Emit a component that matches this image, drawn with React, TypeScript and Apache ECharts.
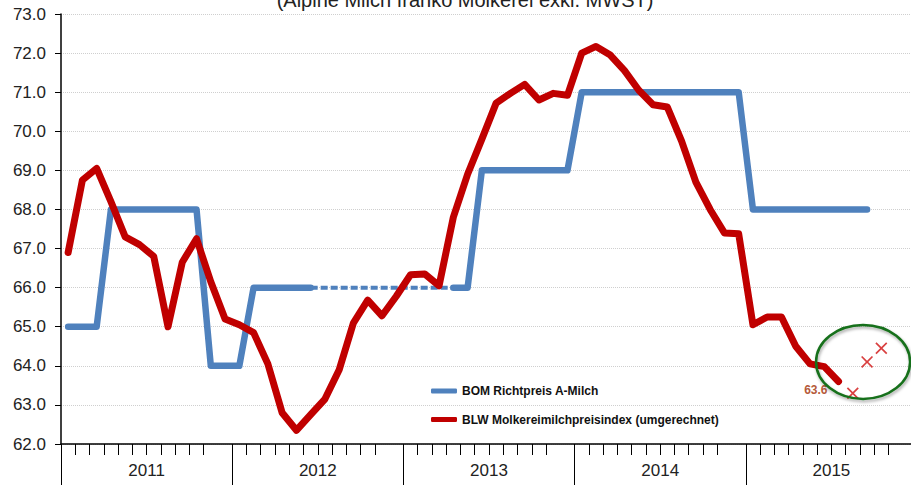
import React, { useEffect, useRef } from "react";
import * as echarts from "echarts";

// ---- data ----
const years = ["2011", "2012", "2013", "2014", "2015"];
const months = ["01", "02", "03", "04", "05", "06", "07", "08", "09", "10", "11", "12"];
const categories = years.flatMap((y) => months.map((m) => `${y}-${m}`));

// BOM Richtpreis A-Milch (Jan 2011 .. Sep 2015)
const bomValues = [
  65, 65, 65, 68, 68, 68, 68, 68, 68, 68, 64, 64,
  64, 66, 66, 66, 66, 66, 66, 66, 66, 66, 66, 66,
  66, 66, 66, 66, 66, 69, 69, 69, 69, 69, 69, 69,
  71, 71, 71, 71, 71, 71, 71, 71, 71, 71, 71, 71,
  68, 68, 68, 68, 68, 68, 68, 68, 68,
];
// months where the BOM price was not set (drawn dashed)
const bomGapFrom = 17;
const bomGapTo = 27;

// BLW Molkereimilchpreisindex (umgerechnet) (Jan 2011 .. Jul 2015)
const blwValues = [
  66.9, 68.75, 69.05, 68.2, 67.3, 67.1, 66.8, 65.0, 66.65, 67.25, 66.15, 65.2,
  65.05, 64.85, 64.05, 62.8, 62.35, 62.75, 63.15, 63.9, 65.1, 65.68, 65.28, 65.78,
  66.33, 66.35, 66.05, 67.8, 68.9, 69.8, 70.72, 70.97, 71.2, 70.8, 70.97, 70.92,
  72.0, 72.17, 71.95, 71.55, 71.05, 70.68, 70.62, 69.75, 68.7, 68.0, 67.4, 67.38,
  65.05, 65.25, 65.25, 64.5, 64.05, 63.98, 63.6,
];

// forecast points (Aug .. Oct 2015)
const forecastMonths = ["2015-08", "2015-09", "2015-10"];
const forecastValues = [63.3, 64.1, 64.45];

const yTicks = { min: 62, max: 73, step: 1 };

const BOM_NAME = "BOM Richtpreis A-Milch";
const BLW_NAME = "BLW Molkereimilchpreisindex (umgerechnet)";
const FONT = '"Liberation Sans", Arial, sans-serif';

const crossPath =
  "path://M0,1 L1,0 L5,4 L9,0 L10,1 L6,5 L10,9 L9,10 L5,6 L1,10 L0,9 L4,5 Z";

export default function App() {
  const ref = useRef<HTMLDivElement>(null);

  useEffect(() => {
    if (!ref.current) return;
    const chart = echarts.init(ref.current, undefined, { renderer: "svg" });

    const bomSolid = bomValues.map((v, i) => (i > bomGapFrom && i < bomGapTo ? null : v));
    const bomDashed = bomValues.map((v, i) => (i >= bomGapFrom && i <= bomGapTo ? v : null));
    const blwData = blwValues.map((v, i) =>
      i === blwValues.length - 1
        ? {
            value: v,
            symbol: "circle",
            symbolSize: 2,
            label: {
              show: true,
              position: "left",
              distance: 10,
              offset: [0, 9],
              formatter: (p: any) => Number(p.value).toFixed(1),
              color: "#b55a3a",
              fontWeight: "bold",
              fontSize: 12,
              fontFamily: FONT,
            },
          }
        : v
    );

    chart.setOption({
      animation: false,
      backgroundColor: "#ffffff",
      textStyle: { fontFamily: FONT },
      grid: { left: 61, top: 14, width: 856, height: 430, containLabel: false },
      legend: {
        data: [BOM_NAME, BLW_NAME],
        orient: "vertical",
        left: 431,
        top: 384,
        padding: 0,
        itemGap: 14.5,
        itemWidth: 26,
        itemHeight: 5,
        icon: "roundRect",
        textStyle: {
          fontFamily: FONT,
          fontSize: 12,
          fontWeight: "bold",
          color: "#111",
          lineHeight: 14,
        },
      },
      xAxis: [
        {
          type: "category",
          data: categories,
          boundaryGap: true,
          position: "bottom",
          axisLine: { lineStyle: { color: "#000", width: 1.5 } },
          axisTick: {
            show: true,
            length: 11,
            interval: (idx: number) => idx % 12 !== 11,
            lineStyle: { color: "#000", width: 1 },
          },
          axisLabel: { show: false },
          splitLine: { show: false },
        },
        {
          type: "category",
          data: years,
          boundaryGap: true,
          position: "bottom",
          axisLine: { show: false },
          axisTick: { show: true, length: 41, interval: 0, lineStyle: { color: "#000", width: 1 } },
          axisLabel: { interval: 0, fontSize: 17, margin: 18, color: "#222", fontFamily: FONT },
          splitLine: { show: false },
        },
      ],
      yAxis: {
        type: "value",
        min: yTicks.min,
        max: yTicks.max,
        interval: yTicks.step,
        axisLine: { show: true, lineStyle: { color: "#000", width: 1.5 } },
        axisTick: { show: true, length: 6, lineStyle: { color: "#000" } },
        axisLabel: {
          formatter: (v: number) => v.toFixed(1),
          fontSize: 17,
          margin: 15,
          color: "#222",
          fontFamily: FONT,
        },
        splitLine: { show: true, lineStyle: { color: "#cfcfcf", width: 1, type: "dotted" } },
      },
      series: [
        {
          name: BOM_NAME,
          type: "line",
          data: bomSolid,
          showSymbol: false,
          symbol: "none",
          connectNulls: false,
          color: "#4f81bd",
          lineStyle: { color: "#4f81bd", width: 6.5, cap: "round", join: "round" },
          z: 2,
        },
        {
          name: "BOM gap",
          type: "line",
          data: bomDashed,
          showSymbol: false,
          symbol: "none",
          color: "#4f81bd",
          lineStyle: { color: "#4f81bd", width: 4, type: [7, 3], cap: "butt" },
          z: 2,
        },
        {
          name: BLW_NAME,
          type: "line",
          data: blwData,
          showSymbol: true,
          symbol: "none",
          color: "#c00000",
          itemStyle: { color: "#c00000" },
          lineStyle: { color: "#c00000", width: 7, cap: "round", join: "round" },
          z: 3,
        },
        {
          name: "Prognose",
          type: "scatter",
          data: forecastMonths.map((m, i) => [m, forecastValues[i]]),
          symbol: crossPath,
          symbolSize: 12,
          itemStyle: { color: "#d01010" },
          z: 4,
        },
      ],
    });

    // annotation ellipse around the forecast
    const c = chart.convertToPixel({ gridIndex: 0 }, [forecastMonths[1], 64.1]) as number[];
    chart.setOption({
      graphic: [
        {
          type: "text",
          x: 465,
          y: -10,
          style: {
            text: "(Alpine Milch franko Molkerei exkl. MWST)",
            font: `20px ${FONT}`,
            fill: "#222",
            textAlign: "center",
            textVerticalAlign: "top",
          },
        },
        {
          type: "ellipse",
          shape: { cx: c[0] - 4, cy: c[1], rx: 47, ry: 37 },
          style: {
            fill: "none",
            stroke: "#17701a",
            lineWidth: 2.5,
            shadowBlur: 3,
            shadowOffsetX: 1,
            shadowOffsetY: 2,
            shadowColor: "rgba(0,0,0,0.35)",
          },
          z: 10,
        },
      ],
    });

    return () => chart.dispose();
  }, []);

  return (
    <div
      style={{
        position: "fixed",
        left: 0,
        top: 0,
        width: 911,
        height: 485,
        overflow: "hidden",
        background: "#fff",
      }}
    >
      <div ref={ref} style={{ width: 920, height: 485 }} />
    </div>
  );
}
